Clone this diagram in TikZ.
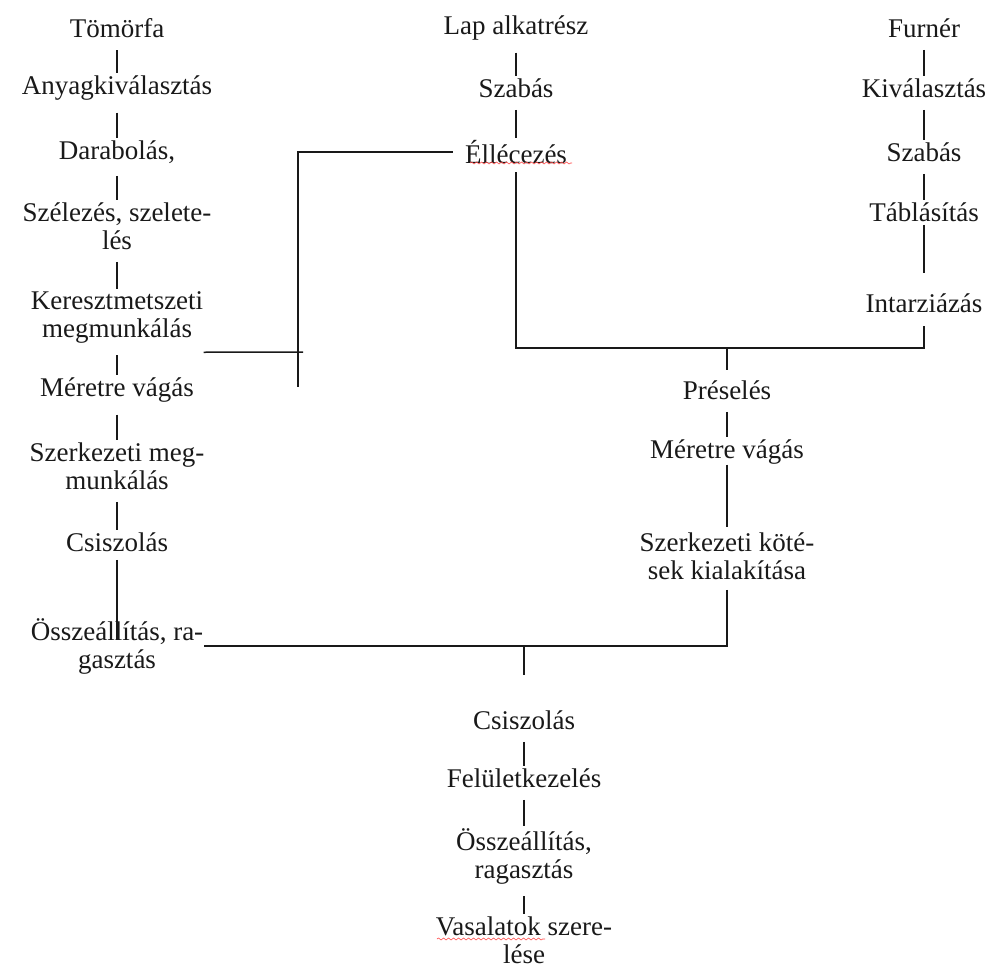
\documentclass[tikz,border=0pt]{standalone}
\usepackage{fontspec}
\setmainfont{Liberation Serif}
\usepackage{xcolor}
\usepackage{tikz}
\usetikzlibrary{decorations.pathmorphing}

\begin{document}
\begin{tikzpicture}[x=0.5pt, y=-0.5pt,
		stepnode/.style={inner sep=0pt, align=center, text=black!90, font=\fontsize{13.5}{14}\selectfont},
		link/.style={line width=0.75pt, draw=black!90, shorten <=6pt, shorten >=1pt},
		squiggle/.style={red!70, line width=0.3pt, decorate, decoration={snake, amplitude=0.5pt, segment length=2.5pt}},
	]
		\useasboundingbox (0,0) rectangle (997,969);

		% nodes, Tömörfa column
		\node[stepnode] (tomorfa)	at (117,28)		{Tömörfa};
		\node[stepnode] (anyag)		at (117,88)		{Anyagkiválasztás};
		\node[stepnode] (darab)		at (117,152)	{Darabolás,};
		\node[stepnode] (szel)		at (117,226)	{Szélezés, szelete-\\lés};
		\node[stepnode] (kmm)		at (117,317)	{Keresztmetszeti\\megmunkálás};
		\node[stepnode] (mvl)		at (117,390)	{Méretre vágás};
		\node[stepnode] (szml)		at (117,466)	{Szerkezeti meg-\\munkálás};
		\node[stepnode] (csl)		at (117,542)	{Csiszolás};
		\node[stepnode] (ossz)		at (117,646)	{Összeállítás, ra-\\gasztás};

		% nodes, Lap alkatrész column
		\node[stepnode] (lap)		at (516,28)		{Lap alkatrész};
		\node[stepnode] (szab1)		at (516,88)		{Szabás};
		\node[stepnode] (ell)		at (516,152)	{Éllécezés};

		% nodes, Furnér column
		\node[stepnode] (furner)	at (924,28)		{Furnér};
		\node[stepnode] (kival)		at (924,88)		{Kiválasztás};
		\node[stepnode] (szab2)		at (924,152)	{Szabás};
		\node[stepnode] (tabla)		at (924,212)	{Táblásítás};
		\node[stepnode] (intarz)	at (924,303)	{Intarziázás};

		% nodes, Préselés column
		\node[stepnode] (pres)		at (727,390)	{Préselés};
		\node[stepnode] (mv2)		at (727,452)	{Méretre vágás};
		\node[stepnode] (szk)		at (727,556)	{Szerkezeti köté-\\sek kialakítása};

		% nodes, final column
		\node[stepnode] (csb)		at (524,720)	{Csiszolás};
		\node[stepnode] (felulet)	at (524,778)	{Felületkezelés};
		\node[stepnode] (ossz2)		at (524,856)	{Összeállítás,\\ragasztás};
		\node[stepnode] (vas)		at (524,940)	{Vasalatok szere-\\lése};

		% junctions and free ends
		\coordinate (m1)		at (727,348);
		\coordinate (ellend)	at (298,387);
		\coordinate (kmend)		at (303,352);
		\coordinate (m2)		at (csb.north |- ossz.east);

		% lines, Tömörfa column
		\draw[link] (tomorfa.south) -- (anyag.north);
		\draw[link] (anyag.south) -- (darab.north);
		\draw[link] (darab.south) -- (szel.north);
		\draw[link] (szel.south) -- (kmm.north);
		\draw[link] (kmm.south) -- (mvl.north);
		\draw[link] (mvl.south) -- (szml.north);
		\draw[link] (szml.south) -- (csl.north);
		\draw[link, shorten <=4pt, shorten >=3pt] (csl.south) -- (ossz.center);

		% lines, Lap alkatrész and Furnér columns
		\draw[link] (lap.south) -- (szab1.north);
		\draw[link] (szab1.south) -- (ell.north);
		\draw[link] (furner.south) -- (kival.north);
		\draw[link] (kival.south) -- (szab2.north);
		\draw[link] (szab2.south) -- (tabla.north);
		\draw[link, shorten <=1.5pt, shorten >=10pt] (tabla.south) -- (intarz.north);

		% lines, joins
		\draw[link, shorten >=0pt] (ell.west) -| (ellend);
		\draw[link, shorten <=0pt, shorten >=0pt] ([yshift=-4.5pt]kmm.south east) -- (kmend);
		\draw[link, shorten <=4pt, shorten >=6.5pt] (ell.south) |- (m1) -| (intarz.south);
		\draw[link, shorten <=0pt, shorten >=5pt] (m1) -- (pres.north);

		% lines, Préselés column
		\draw[link] (pres.south) -- (mv2.north);
		\draw[link, shorten <=0pt, shorten >=2.5pt] (mv2.south) -- (szk.north);
		\draw[link, shorten <=5pt, shorten >=0pt] (szk.south) |- (ossz.east);
		\draw[link, shorten <=0pt, shorten >=17.5pt] (m2) -- (csb.north);

		% lines, final column
		\draw[link] (csb.south) -- (felulet.north);
		\draw[link] (felulet.south) -- (ossz2.north);
		\draw[link] (ossz2.south) -- (vas.north);

		% spell check marks
		\draw[squiggle] (470,163) -- (572,163);
		\draw[squiggle] (437,939) -- (545,939);
	\end{tikzpicture}
\end{document}
